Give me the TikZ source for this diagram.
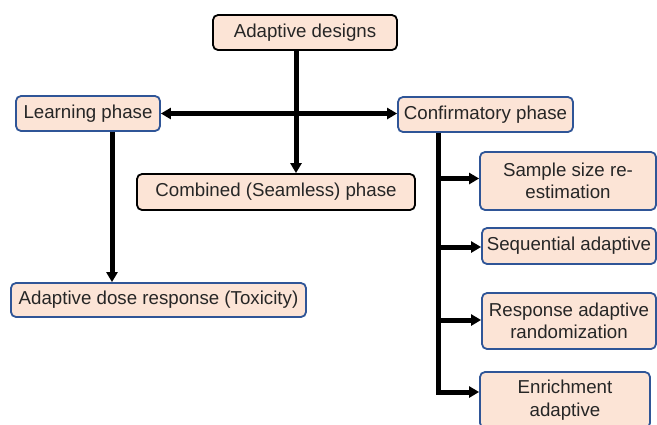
\documentclass[tikz,border=0pt]{standalone}
\usepackage{fontspec}
\setmainfont{Liberation Sans}
\usetikzlibrary{arrows.meta}
\definecolor{boxfill}{HTML}{FCE4D6}
\definecolor{boxblue}{HTML}{2F5597}
\definecolor{txt}{HTML}{262626}
\begin{document}
\begin{tikzpicture}[x=1pt,y=-1pt,
  box/.style={draw=boxblue, line width=1.8pt, fill=boxfill, rounded corners=5pt,
    inner sep=0pt, align=center, text=txt, font=\fontsize{18.7}{22.5}\selectfont},
  blackbox/.style={box, draw=black},
  conn/.style={line width=5pt, black, line join=miter},
  arr/.style={conn, -{Triangle[length=10pt,width=11pt]}},
  darr/.style={conn, {Triangle[length=10pt,width=11pt]}-{Triangle[length=10pt,width=11pt]}}]
\useasboundingbox (0,0) rectangle (657,424);
\node[blackbox, minimum width=184pt, minimum height=35pt] (top) at (305,32.5) {Adaptive designs};
\node[box, minimum width=144pt, minimum height=35pt] (learn) at (88,113.5) {Learning phase};
\node[box, minimum width=175pt, minimum height=35pt] (conf) at (485.5,114.5) {Confirmatory phase};
\node[blackbox, minimum width=278pt, minimum height=36pt] (comb) at (276,192) {Combined (Seamless) phase};
\node[box, minimum width=295pt, minimum height=34pt] (dose) at (158.5,300) {Adaptive dose response (Toxicity)};
\node[box, minimum width=176pt, minimum height=58pt] (sample) at (568,181) {Sample size re-\\estimation};
\node[box, minimum width=174pt, minimum height=36pt] (seq) at (569,246) {Sequential adaptive};
\node[box, minimum width=174pt, minimum height=56pt] (resp) at (569,321) {Response adaptive\\randomization};
\node[box, minimum width=170pt, minimum height=56pt] (enr) at (565,400) {Enrichment\\adaptive};
% connectors
\draw[arr] ([xshift=-9pt]top.south) -- ([xshift=-9pt]top.south |- comb.north);
\draw[darr] (learn.east) -- (learn.east -| conf.west);
\draw[arr] ([xshift=24pt]learn.south) -- ([xshift=24pt]learn.south |- dose.north);
\coordinate (tk) at ([xshift=-47.5pt]conf.south);
\coordinate (sw) at ([yshift=2.5pt]sample.west);
\coordinate (qw) at ([yshift=-1pt]seq.west);
\coordinate (rw) at ([yshift=1pt]resp.west);
\coordinate (ew) at ([yshift=8pt]enr.west);
\draw[arr] (tk) -- (tk |- ew) -- (ew);
\draw[arr] (tk |- sw) -- (sw);
\draw[arr] (tk |- qw) -- (qw);
\draw[arr] (tk |- rw) -- (rw);
\end{tikzpicture}
\end{document}
